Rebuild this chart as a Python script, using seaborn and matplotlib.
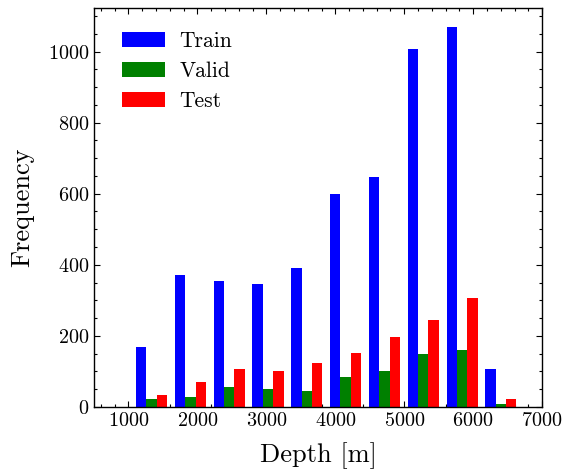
import matplotlib
matplotlib.use('Agg')
import matplotlib.pyplot as plt
import numpy as np
import pandas as pd
import seaborn as sns
from matplotlib.ticker import MultipleLocator

# Histogram values
bin_edges = [1053, 1616, 2179, 2742, 3305, 3868, 4431, 4994, 5557, 6120, 6683]
splits = ['Train', 'Valid', 'Test']
train_counts = [168, 371, 354, 345, 391, 599, 647, 1007, 1069, 106]
valid_counts = [22, 27, 56, 50, 44, 84, 101, 149, 160, 8]
test_counts = [33, 70, 106, 101, 123, 151, 196, 244, 306, 22]
colors = ['blue', 'green', 'red']

# long form table for seaborn (one row per bin and split, weighted by count)
centers = [(a + b) / 2 for a, b in zip(bin_edges[:-1], bin_edges[1:])]
rows = []
for name, counts in zip(splits, [train_counts, valid_counts, test_counts]):
    for c, n in zip(centers, counts):
        rows.append({'Depth': c, 'Count': n, 'Split': name})
df = pd.DataFrame(rows)

sns.set_theme(style='ticks')
plt.rcParams['font.family'] = 'serif'
plt.rcParams['font.serif'] = ['cmr10']
plt.rcParams['mathtext.fontset'] = 'cm'
plt.rcParams['axes.formatter.use_mathtext'] = True
plt.rcParams['text.color'] = 'black'
plt.rcParams['axes.labelcolor'] = 'black'
plt.rcParams['axes.edgecolor'] = 'black'
plt.rcParams['xtick.color'] = 'black'
plt.rcParams['ytick.color'] = 'black'

fig = plt.figure(figsize=(5.63, 4.71), dpi=100)
ax = fig.add_axes([0.167, 0.136, 0.796, 0.847])

sns.histplot(data=df, x='Depth', weights='Count', hue='Split', hue_order=splits,
             palette=colors, bins=bin_edges, multiple='dodge', shrink=0.8,
             alpha=1, linewidth=0, ax=ax)

ax.set_xlim(500, 7000)
ax.set_xlabel('Depth [m]', fontsize=19, labelpad=9)
ax.set_ylabel('Frequency', fontsize=19, labelpad=10)
ax.xaxis.set_major_locator(MultipleLocator(1000))
ax.xaxis.set_minor_locator(MultipleLocator(200))
ax.yaxis.set_major_locator(MultipleLocator(200))
ax.yaxis.set_minor_locator(MultipleLocator(50))
ax.tick_params(which='both', direction='in', top=True, right=True, labelsize=14.5, width=0.8)
ax.tick_params(which='major', length=4.5)
ax.tick_params(which='minor', length=2.5)
for s in ax.spines.values():
    s.set_linewidth(1.0)
ax.set_axisbelow(True)

sns.move_legend(ax, 'upper left', title=None, frameon=False, fontsize=15.5,
                handlelength=2.0, handleheight=0.7, labelspacing=0.5,
                bbox_to_anchor=(0.02, 0.99), borderaxespad=0.5, handletextpad=0.65)

fig.savefig('out.png', dpi=100)
